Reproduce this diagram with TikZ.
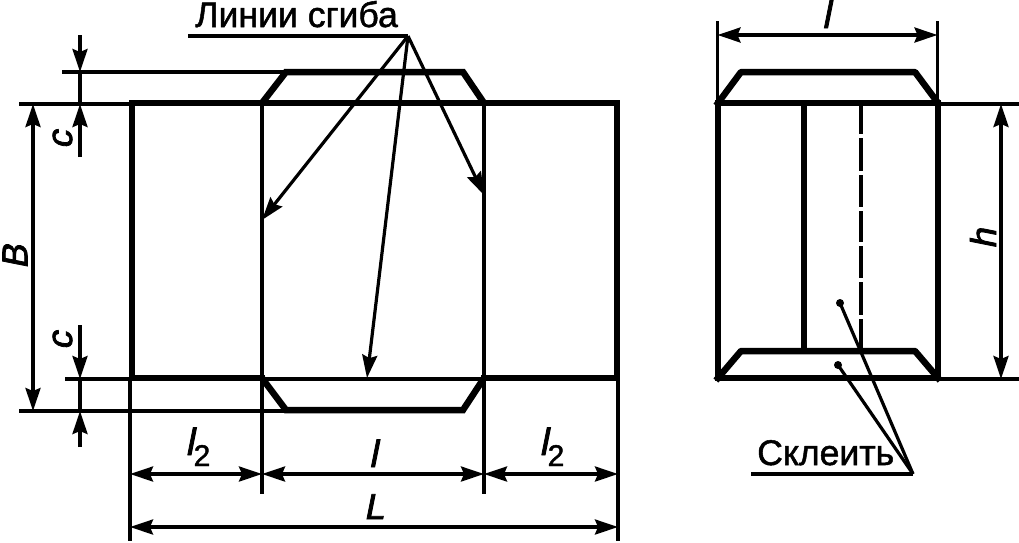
\documentclass[tikz,border=0pt]{standalone}
\usepackage{fontspec}
\setmainfont{Liberation Sans}
\newfontfamily\heavyfont[FakeBold=1.4]{Liberation Sans}
\newfontfamily\heavyital[FakeBold=2.2,FakeSlant=0.2]{Liberation Sans}
\usetikzlibrary{arrows.meta}
\newcommand{\lsub}{l{\heavyfont\fontsize{30pt}{30pt}\selectfont\raisebox{-11pt}{2}}}
\tikzset{
  thin line/.style={line width=3.2pt},
  thick line/.style={line width=6.5pt,line join=miter,line cap=rect},
  mid line/.style={line width=5.5pt},
  dim/.style={line width=3.2pt,-{Stealth[length=23pt,width=15pt,inset=3pt]}},
  dimboth/.style={line width=3.2pt,{Stealth[length=23pt,width=15pt,inset=3pt]}-{Stealth[length=23pt,width=15pt,inset=3pt]}},
  lbl/.style={inner sep=0pt,font=\heavyfont\fontsize{35.6pt}{36pt}\selectfont},
  ilbl/.style={inner sep=0pt,font=\heavyital\fontsize{36pt}{36pt}\selectfont},
  illbl/.style={inner sep=0pt,font=\heavyital\fontsize{38pt}{38pt}\selectfont}
}
\begin{document}
\begin{tikzpicture}[x=1pt,y=-1pt]
\useasboundingbox (0,0) rectangle (1019,542);
\fill[white] (0,0) rectangle (1019,542);
% left net coordinates
\coordinate (bTL) at (132,103);
\coordinate (bTR) at (617,103);
\coordinate (bBL) at (132,378);
\coordinate (bBR) at (617,378);
\coordinate (fTL) at (262,103);
\coordinate (fTR) at (484,103);
\coordinate (fBL) at (262,378);
\coordinate (fBR) at (484,378);
% thin extension lines
\draw[thin line] (62,72) -- (286,72);
\draw[thin line] (19,104) -- (132,104);
\draw[thin line] (65,379) -- (484,379);
\draw[thin line] (19,411) -- (286,411);
\draw[thin line] (130,378) -- (130,541);
\draw[thin line] (618,378) -- (618,541);
\draw[thin line] (262,103) -- (262,494);
\draw[thin line] (484,103) -- (484,494);
% thick outline
\draw[thick line] (fBL) -- (bBL) -- (bTL) -- (bTR) -- (bBR) -- (fBR);
\draw[thick line] (fTL) -- (286,72) -- (463,72) -- (fTR);
\draw[thick line] (fBL) -- (286,410) -- (463,410) -- (fBR);
% c dimensions
\coordinate (c1a) at (80,35); \coordinate (c1b) at (80,72);
\coordinate (c2a) at (80,157); \coordinate (c2b) at (80,104);
\coordinate (c3a) at (80,325); \coordinate (c3b) at (80,379);
\coordinate (c4a) at (80,447); \coordinate (c4b) at (80,411);
\draw[dim] (c1a) -- (c1b);
\draw[thin line] (c1b) -- (c2b);
\draw[dim] (c2a) -- (c2b);
\draw[dim] (c3a) -- (c3b);
\draw[thin line] (c3b) -- (c4b);
\draw[dim] (c4a) -- (c4b);
\node[ilbl,rotate=90] (lc1) at (62.5,140) {c};
\node[ilbl,rotate=90] (lc2) at (62.5,341) {c};
% B
\coordinate (Ba) at (33,104); \coordinate (Bb) at (33,411);
\draw[dimboth] (Ba) -- (Bb);
\node[ilbl,rotate=90] (lB) at (15,257) {B};
% horizontal dims
\coordinate (d1) at (130,474); \coordinate (d2) at (262,474);
\coordinate (d3) at (484,474); \coordinate (d4) at (618,474);
\coordinate (Ll) at (130,527); \coordinate (Lr) at (618,527);
\draw[dimboth] (d1) -- (d2);
\draw[dimboth] (d2) -- (d3);
\draw[dimboth] (d3) -- (d4);
\draw[dimboth] (Ll) -- (Lr);
\node[illbl,anchor=base west] (ll2a) at (185,455) {\lsub};
\node[illbl,anchor=base] (ll) at (373,467) {l};
\node[illbl,anchor=base west] (ll2b) at (539,455) {\lsub};
\node[ilbl,anchor=base] (lL) at (374,519) {L};
% fold label
\node[lbl,anchor=base west] (fold) at (195,27) {Линии сгиба};
\coordinate (foldS) at (188,36); \coordinate (foldE) at (408,36);
\draw[thin line] (foldS) -- (foldE);
\coordinate (t1) at (262,220); \coordinate (t2) at (367,378); \coordinate (t3) at (484,195);
\draw[dim] (foldE) -- (t1);
\draw[dim] (foldE) -- (t2);
\draw[dim] (foldE) -- (t3);
% right view
\coordinate (rTL) at (718,103); \coordinate (rTR) at (938,103);
\coordinate (rBL) at (718,378); \coordinate (rBR) at (938,378);
\draw[thin line] (717.5,21) -- (717.5,103);
\draw[thin line] (937.5,21) -- (937.5,103);
\draw[thin line] (938,104) -- (1019,104);
\draw[thin line] (938,379) -- (1019,379);
\draw[thick line] (rTL) -- (rTR) -- (rBR) -- (rBL) -- cycle;
\draw[thick line,line join=bevel] (rTL) -- (741,72) -- (915,72) -- (rTR);
\draw[thick line,line join=bevel] (rBL) -- (741,351) -- (915,351) -- (rBR);
\draw[mid line] (804,103) -- (804,351);
\draw[line width=4pt] (861,103) -- (861,134) (861,138) -- (861,171) (861,175) -- (861,207) (861,211) -- (861,242) (861,246) -- (861,278) (861,282) -- (861,315) (861,319) -- (861,351);
% l dim
\coordinate (rl1) at (717.5,35); \coordinate (rl2) at (937.5,35);
\draw[dimboth] (rl1) -- (rl2);
\node[illbl,anchor=base] (rl) at (826,28) {l};
% h dim
\coordinate (h1) at (1001,104); \coordinate (h2) at (1001,379);
\draw[dimboth] (h1) -- (h2);
\node[ilbl,rotate=90] (lh) at (983,239) {h};
% glue
\coordinate (gE) at (913,474); \coordinate (gS) at (751,474);
\node[lbl,anchor=base west] (glue) at (757,465) {Склеить};
\draw[thin line] (gS) -- (gE);
\fill (840,303) circle (4pt) coordinate (g1);
\fill (838,365) circle (4pt) coordinate (g2);
\draw[thin line] (g1) -- (gE);
\draw[thin line] (g2) -- (gE);
\end{tikzpicture}
\end{document}
